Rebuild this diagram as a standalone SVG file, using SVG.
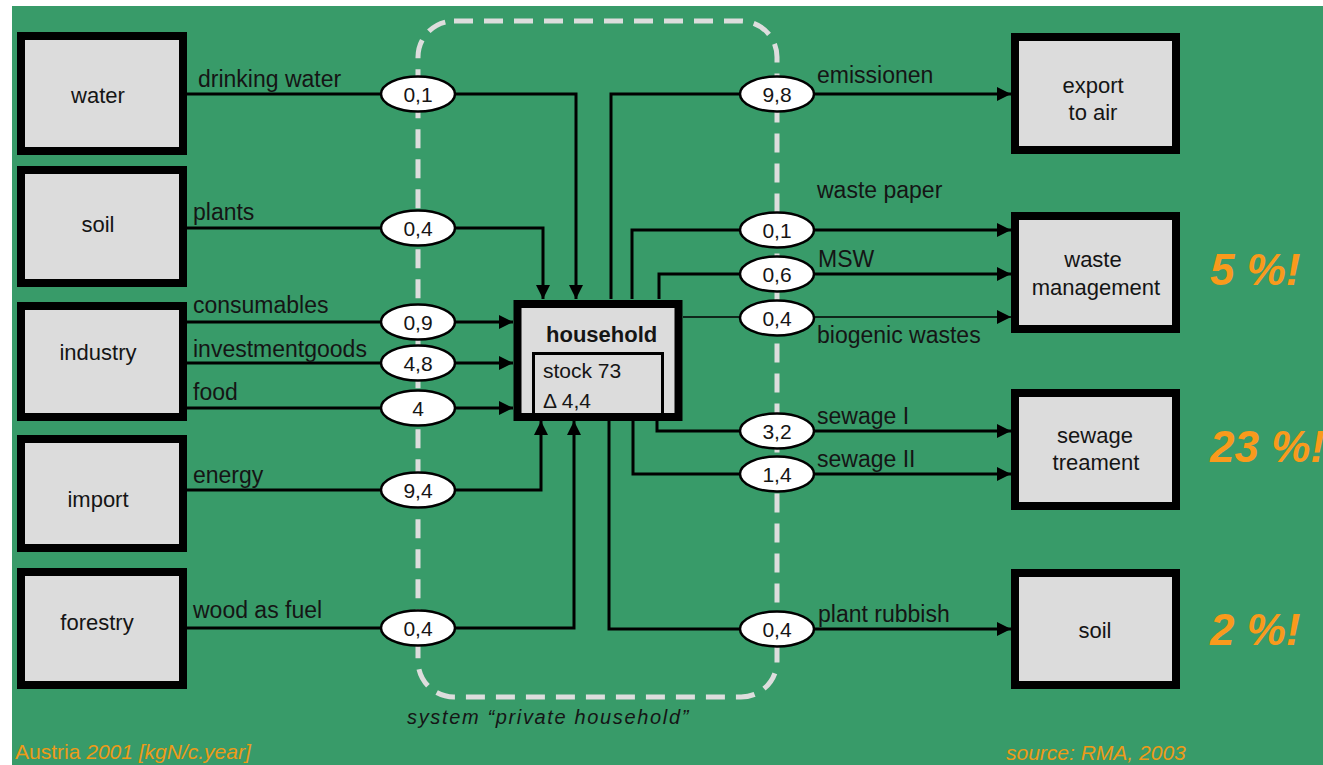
<svg xmlns="http://www.w3.org/2000/svg" width="1323" height="765" viewBox="0 0 1323 765">
<style>
text{font-family:"Liberation Sans",Arial,sans-serif;fill:#151515}
.box{fill:#dcdcdc;stroke:#000;stroke-width:8}
.lbl{font-size:22px;text-anchor:middle}
.flow{font-size:23px}
.val{font-size:21px;text-anchor:middle}
.ell{fill:#fff;stroke:#000;stroke-width:2.5}
.con{fill:none;stroke:#000;stroke-width:3}
.thin{stroke-width:1.6}
.pct{font-size:44px;font-weight:bold;font-style:italic;fill:#f99a1c}
.note{font-size:21px;fill:#ee9a18}
</style>
<defs>
<marker id="arr" markerUnits="userSpaceOnUse" markerWidth="14" markerHeight="14" refX="14" refY="7" orient="auto">
<path d="M0,0 L14,7 L0,14 z" fill="#000"/>
</marker>
</defs>
<rect x="0" y="0" width="1323" height="765" fill="#fff"/>
<rect x="12" y="6" width="1311" height="759" fill="#389b69"/>
<g id="system-boundary">
<rect x="418" y="21" width="359" height="676" rx="36" fill="none" stroke="#dddddd" stroke-width="5" stroke-dasharray="19 11"/>
<text x="407" y="724" style="font-size:20px;font-style:italic;letter-spacing:1.65px">system “private household”</text>
</g>
<g id="connectors">
<path class="con" d="M187,94 H576 V299" marker-end="url(#arr)"/>
<path class="con" d="M187,228 H543 V299" marker-end="url(#arr)"/>
<path class="con" d="M187,322 H513" marker-end="url(#arr)"/>
<path class="con" d="M187,363 H513" marker-end="url(#arr)"/>
<path class="con" d="M187,408 H513" marker-end="url(#arr)"/>
<path class="con" d="M187,490 H541 V421" marker-end="url(#arr)"/>
<path class="con" d="M187,628 H574 V421" marker-end="url(#arr)"/>
<path class="con" d="M611,299 V94 H1011" marker-end="url(#arr)"/>
<path class="con" d="M632,299 V230 H1011" marker-end="url(#arr)"/>
<path class="con" d="M659,299 V274 H1011" marker-end="url(#arr)"/>
<path class="con thin" d="M683,317 H1011" marker-end="url(#arr)"/>
<path class="con" d="M657,421 V431 H1011" marker-end="url(#arr)"/>
<path class="con" d="M633,421 V474 H1011" marker-end="url(#arr)"/>
<path class="con" d="M609,421 V629 H1011" marker-end="url(#arr)"/>
</g>
<g id="flow-labels">
<text class="flow" x="198" y="87">drinking water</text>
<text class="flow" x="193" y="220">plants</text>
<text class="flow" x="193" y="313">consumables</text>
<text class="flow" x="193" y="357">investmentgoods</text>
<text class="flow" x="193" y="400">food</text>
<text class="flow" x="193" y="483">energy</text>
<text class="flow" x="193" y="618">wood as fuel</text>
<text class="flow" x="817" y="83">emissionen</text>
<text class="flow" x="817" y="198">waste paper</text>
<text class="flow" x="818" y="267">MSW</text>
<text class="flow" x="817" y="343">biogenic wastes</text>
<text class="flow" x="817" y="424">sewage I</text>
<text class="flow" x="817" y="467">sewage II</text>
<text class="flow" x="818" y="622">plant rubbish</text>
</g>
<g id="values">
<ellipse class="ell" cx="418" cy="94" rx="37" ry="17.5"/><text class="val" x="418" y="102">0,1</text>
<ellipse class="ell" cx="418" cy="228" rx="37" ry="17.5"/><text class="val" x="418" y="236">0,4</text>
<ellipse class="ell" cx="418" cy="322" rx="37" ry="17.5"/><text class="val" x="418" y="330">0,9</text>
<ellipse class="ell" cx="418" cy="363" rx="37" ry="17.5"/><text class="val" x="418" y="371">4,8</text>
<ellipse class="ell" cx="418" cy="408" rx="37" ry="17.5"/><text class="val" x="418" y="416">4</text>
<ellipse class="ell" cx="418" cy="490" rx="37" ry="17.5"/><text class="val" x="418" y="498">9,4</text>
<ellipse class="ell" cx="418" cy="628" rx="37" ry="17.5"/><text class="val" x="418" y="636">0,4</text>
<ellipse class="ell" cx="777" cy="94" rx="37" ry="17.5"/><text class="val" x="777" y="102">9,8</text>
<ellipse class="ell" cx="777" cy="230" rx="37" ry="17.5"/><text class="val" x="777" y="238">0,1</text>
<ellipse class="ell" cx="777" cy="274" rx="37" ry="17.5"/><text class="val" x="777" y="282">0,6</text>
<ellipse class="ell" cx="777" cy="318" rx="37" ry="17.5"/><text class="val" x="777" y="326">0,4</text>
<ellipse class="ell" cx="777" cy="431" rx="37" ry="17.5"/><text class="val" x="777" y="439">3,2</text>
<ellipse class="ell" cx="777" cy="474" rx="37" ry="17.5"/><text class="val" x="777" y="482">1,4</text>
<ellipse class="ell" cx="777" cy="629" rx="37" ry="17.5"/><text class="val" x="777" y="637">0,4</text>
</g>
<g id="water"><rect class="box" x="21" y="36" width="162" height="115"/><text class="lbl" x="98" y="103">water</text></g>
<g id="soil-in"><rect class="box" x="21" y="170" width="162" height="113"/><text class="lbl" x="98" y="232">soil</text></g>
<g id="industry"><rect class="box" x="21" y="306" width="162" height="111"/><text class="lbl" x="98" y="360">industry</text></g>
<g id="import"><rect class="box" x="21" y="439" width="162" height="109"/><text class="lbl" x="98" y="507">import</text></g>
<g id="forestry"><rect class="box" x="21" y="572" width="162" height="113"/><text class="lbl" x="97" y="630">forestry</text></g>
<g id="household">
<rect class="box" x="517.5" y="304" width="161" height="113" stroke-width="9"/>
<text x="546" y="342" style="font-size:22px;font-weight:bold">household</text>
<path d="M533.5,413 V353.5 H662.5 V413" fill="none" stroke="#000" stroke-width="3"/>
<text x="543" y="378" style="font-size:21px">stock 73</text>
<text x="543" y="408" style="font-size:21px">Δ 4,4</text>
</g>
<g id="export-air"><rect class="box" x="1015" y="37" width="161" height="113"/><text class="lbl" x="1093" y="93">export</text><text class="lbl" x="1093" y="120">to air</text></g>
<g id="waste-management"><rect class="box" x="1015" y="216" width="161" height="113"/><text class="lbl" x="1093" y="267">waste</text><text class="lbl" x="1096" y="295">management</text></g>
<g id="sewage-treatment"><rect class="box" x="1015" y="393" width="161" height="113"/><text class="lbl" x="1095" y="443">sewage</text><text class="lbl" x="1096" y="470">treament</text></g>
<g id="soil-out"><rect class="box" x="1015" y="573" width="161" height="112"/><text class="lbl" x="1095" y="638">soil</text></g>
<g id="percentages">
<text class="pct" x="1210" y="285">5 %!</text>
<text class="pct" x="1210" y="462">23 %!</text>
<text class="pct" x="1210" y="645">2 %!</text>
</g>
<g id="notes">
<text class="note" x="15" y="759">Austria <tspan font-style="italic">2001 [kgN/c.year]</tspan></text>
<text class="note" x="1006" y="760" font-style="italic">source: RMA, 2003</text>
</g>
</svg>
